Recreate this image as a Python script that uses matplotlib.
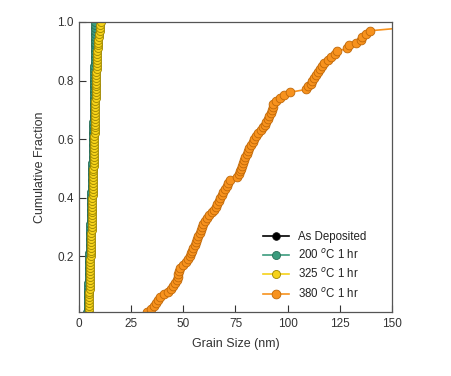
import numpy as np
import matplotlib
matplotlib.use('Agg')
import matplotlib.pyplot as plt

plt.rcParams['font.family'] = ['Liberation Sans', 'DejaVu Sans']

# grain sizes (nm), sorted
as_dep = [4.15, 4.25, 4.35, 4.45, 4.55, 4.65, 4.75, 4.85, 4.95, 5.0,
          5.1, 5.2, 5.3, 5.4, 5.5, 5.6, 5.7, 5.8, 5.85, 5.9,
          6.0, 6.1, 6.2, 6.3, 6.4, 6.5, 6.6, 6.7, 6.75, 6.8,
          6.9, 6.95, 7.0, 7.05, 7.1, 7.15, 7.2, 7.25, 7.3, 7.35,
          7.4, 7.45, 7.5, 7.55, 7.6, 7.65, 7.7, 7.75, 7.8, 7.9]
t200 = [4.0, 4.05, 4.1, 4.15, 4.2, 4.25, 4.3, 4.35, 4.4, 4.45,
        4.5, 4.55, 4.6, 4.65, 4.7, 4.7, 4.75, 4.8, 4.85, 4.9,
        4.95, 5.0, 5.05, 5.1, 5.15, 5.2, 5.25, 5.3, 5.35, 5.4,
        5.45, 5.5, 5.55, 5.6, 5.65, 5.7, 5.7, 5.75, 5.8, 5.8,
        5.85, 5.9, 5.95, 6.0, 6.05, 6.1, 6.15, 6.2, 6.25, 6.3,
        6.35, 6.4, 6.45, 6.5, 6.55, 6.6, 6.6, 6.65, 6.7, 6.7,
        6.75, 6.8, 6.82, 6.85, 6.88, 6.9, 6.92, 6.95, 6.98, 7.0,
        7.02, 7.05, 7.08, 7.1, 7.12, 7.15, 7.18, 7.2, 7.22, 7.25,
        7.28, 7.3, 7.32, 7.35, 7.38, 7.4, 7.42, 7.45, 7.48, 7.5,
        7.52, 7.55, 7.58, 7.6, 7.62, 7.65, 7.68, 7.7, 7.75, 7.8]
t325 = [4.6, 4.65, 4.7, 4.75, 4.8, 4.85, 4.9, 4.95, 5.0, 5.05,
        5.1, 5.15, 5.2, 5.25, 5.3, 5.3, 5.35, 5.4, 5.45, 5.5,
        5.55, 5.6, 5.65, 5.7, 5.75, 5.8, 5.85, 5.9, 5.95, 6.0,
        6.05, 6.1, 6.15, 6.2, 6.25, 6.3, 6.3, 6.35, 6.4, 6.4,
        6.45, 6.5, 6.55, 6.6, 6.65, 6.7, 6.75, 6.8, 6.85, 6.9,
        6.95, 7.0, 7.05, 7.1, 7.15, 7.2, 7.2, 7.25, 7.3, 7.3,
        7.35, 7.4, 7.45, 7.5, 7.5, 7.55, 7.6, 7.6, 7.65, 7.7,
        7.75, 7.8, 7.85, 7.9, 7.95, 8.0, 8.0, 8.05, 8.1, 8.15,
        8.2, 8.25, 8.3, 8.35, 8.4, 8.5, 8.55, 8.6, 8.7, 8.8,
        8.9, 9.0, 9.1, 9.3, 9.5, 9.7, 9.8, 10.0, 10.2, 10.5]
t380 = [32.5, 34.5, 35.8, 37.0, 38.0, 38.8, 40.5, 42.5, 44.0, 45.0,
        46.0, 46.8, 47.2, 47.5, 47.7, 48.5, 50.0, 51.2, 52.2, 53.0,
        53.6, 54.2, 54.8, 55.4, 56.0, 56.6, 57.2, 57.8, 58.3, 58.8,
        59.5, 60.5, 61.5, 62.5, 63.5, 64.5, 65.5, 66.3, 67.0, 67.6,
        68.4, 69.2, 70.0, 70.8, 71.6, 72.4, 75.5, 76.5, 77.2, 77.6,
        78.0, 78.5, 79.0, 79.6, 80.3, 81.0, 81.7, 82.4, 83.2, 84.0,
        85.0, 86.0, 87.0, 88.0, 89.0, 89.8, 90.6, 91.3, 92.0, 92.5,
        92.9, 93.2, 94.5, 96.5, 98.5, 101.0, 109.0, 110.0, 111.0, 111.8,
        112.5, 113.8, 114.7, 115.6, 116.5, 117.5, 119.5, 120.8, 122.5, 123.8,
        128.5, 129.2, 133.0, 135.0, 135.8, 137.5, 139.5, 155.0, 165.0, 175.0]

series = [
    ('As Deposited', as_dep, 'black', '#111111', 5.5),
    ('200 $^{o}$C 1 hr', t200, '#3c9c7e', '#2a6e58', 5.8),
    ('325 $^{o}$C 1 hr', t325, '#f6d21a', '#9c8500', 5.8),
    ('380 $^{o}$C 1 hr', t380, '#f7921e', '#c06808', 6.3),
]

fig = plt.figure(figsize=(4.52, 3.76), dpi=100)
ax = fig.add_axes([0.175, 0.170, 0.692, 0.7715])

for name, sizes, col, edge, ms in series:
    x = np.sort(np.array(sizes))
    frac = np.arange(1, len(x) + 1) / len(x)
    ax.plot(x, frac, '-', color=col, lw=1.2, marker='o', ms=ms,
            mfc=col, mec=edge, mew=0.6, label=name)

ax.set_xlim(0, 150)
ax.set_ylim(0.01, 1.0)
ax.set_xticks([0, 25, 50, 75, 100, 125, 150])
ax.set_yticks([0.2, 0.4, 0.6, 0.8, 1.0])
ax.tick_params(direction='in', length=5, width=0.8, colors='#333333',
               labelsize=8.5, labelcolor='#333333', pad=4)
for s in ax.spines.values():
    s.set_color('#555555')
    s.set_linewidth(0.9)

ax.set_xlabel('Grain Size (nm)', fontsize=9, color='#333333', labelpad=6)
ax.set_ylabel('Cumulative Fraction', fontsize=9, color='#333333', labelpad=8)

leg = ax.legend(loc='lower right', frameon=False, fontsize=8.3,
                handlelength=2.2, labelspacing=0.45, borderaxespad=0.6,
                bbox_to_anchor=(0.955, 0.0))
for t in leg.get_texts():
    t.set_color('#222222')

fig.savefig('out.png', dpi=100)
